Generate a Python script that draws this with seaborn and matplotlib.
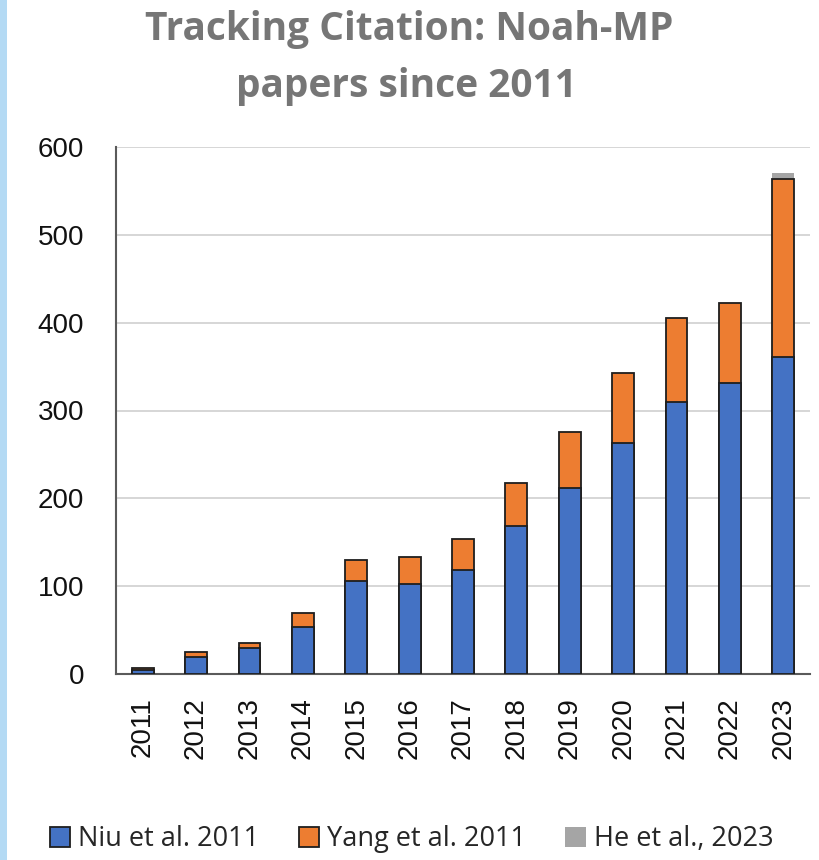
import numpy as np
import pandas as pd
import matplotlib
matplotlib.use("Agg")
import matplotlib.pyplot as plt
import seaborn as sns
from matplotlib.patches import Patch, Rectangle

years = ["2011", "2012", "2013", "2014", "2015", "2016", "2017",
         "2018", "2019", "2020", "2021", "2022", "2023"]
niu = [4, 19, 30, 53, 106, 103, 118, 168, 212, 263, 310, 331, 361]
yang = [3, 6, 5, 17, 24, 30, 36, 49, 64, 80, 95, 91, 202]
he = [0, 0, 0, 0, 0, 0, 0, 0, 0, 0, 0, 0, 7]
series_names = ["Niu et al. 2011", "Yang et al. 2011", "He et al., 2023"]
series_colors = ["#4472C4", "#ED7D31", "#A5A5A5"]
title_lines = ["Tracking Citation: Noah-MP", "papers since 2011"]
yticks = [0, 100, 200, 300, 400, 500, 600]

df = pd.DataFrame({"year": years, "niu": niu, "yang": yang, "he": he})
df["niu_yang"] = df["niu"] + df["yang"]
df["total"] = df["niu_yang"] + df["he"]

sns.set_theme(style="white")
plt.rcParams["font.family"] = ["Liberation Sans", "DejaVu Sans"]

fig = plt.figure(figsize=(8.2, 8.6), dpi=100)
fig.patch.set_facecolor("white")
fig.patches.append(Rectangle((0, 0), 7 / 820, 1, transform=fig.transFigure,
                             facecolor="#B4DAF4", edgecolor="none", zorder=0))

ax = fig.add_axes([116 / 820, 186 / 860, 694 / 820, 527 / 860])

edge = "#1E1E1E"
bw = 0.41
sns.barplot(data=df, x="year", y="total", order=years, color=series_colors[2],
            width=bw, edgecolor="none", linewidth=0, saturation=1, ax=ax, zorder=3)
sns.barplot(data=df, x="year", y="niu_yang", order=years, color=series_colors[1],
            width=bw, edgecolor=edge, linewidth=1.3, saturation=1, ax=ax, zorder=3)
sns.barplot(data=df, x="year", y="niu", order=years, color=series_colors[0],
            width=bw, edgecolor=edge, linewidth=1.3, saturation=1, ax=ax, zorder=3)

ax.set_xlim(-0.5, len(years) - 0.5)
ax.set_ylim(0, 600)
ax.set_yticks(yticks)
ax.set_yticklabels([str(v) for v in yticks])
ax.set_xlabel("")
ax.set_ylabel("")
ax.yaxis.grid(True, color="#CFCFCF", linewidth=1.2, zorder=0)
ax.xaxis.grid(False)
ax.set_axisbelow(True)

for s in ["top", "right"]:
    ax.spines[s].set_visible(False)
for s in ["left", "bottom"]:
    ax.spines[s].set_visible(True)
    ax.spines[s].set_color("#5A5A5A")
    ax.spines[s].set_linewidth(1.5)

ax.tick_params(axis="y", length=0, pad=23, labelsize=20, labelcolor="#111111")
ax.tick_params(axis="x", length=0, pad=17, labelsize=20, labelcolor="#111111",
               labelrotation=90)

title_font = ["Open Sans", "DejaVu Sans"]
fig.text(0.499, 1 - 40 / 860, title_lines[0], ha="center", va="baseline",
         fontsize=28, fontweight="bold", color="#767676", family=title_font)
fig.text(0.496, 1 - 97 / 860, title_lines[1], ha="center", va="baseline",
         fontsize=28, fontweight="bold", color="#767676", family=title_font)

handles = [Patch(facecolor=series_colors[0], edgecolor=edge, linewidth=1.3),
           Patch(facecolor=series_colors[1], edgecolor=edge, linewidth=1.3),
           Patch(facecolor=series_colors[2], edgecolor="none")]
fig.legend(handles, series_names, loc="center", bbox_to_anchor=(0.502, 0.024),
           ncol=3, frameon=False, handlelength=0.75, handleheight=0.75,
           handletextpad=0.3, columnspacing=1.45,
           prop={"family": ["Open Sans", "DejaVu Sans"], "size": 19.5})

fig.savefig("out.png", dpi=100, facecolor="white")
